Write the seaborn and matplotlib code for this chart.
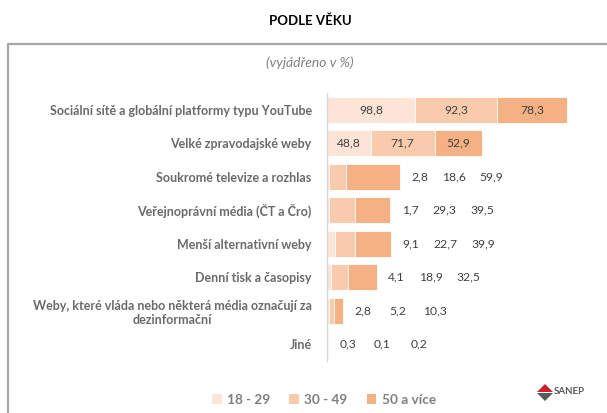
import matplotlib
matplotlib.use('Agg')
import matplotlib.pyplot as plt
import seaborn as sns
import pandas as pd
from matplotlib.patches import Patch, Polygon
from matplotlib.lines import Line2D

# data
categories = [
    'Sociální sítě a globální platformy typu YouTube',
    'Velké zpravodajské weby',
    'Soukromé televize a rozhlas',
    'Veřejnoprávní média (ČT a Čro)',
    'Menší alternativní weby',
    'Denní tisk a časopisy',
    'Weby, které vláda nebo některá média označují za\ndezinformační',
    'Jiné',
]
age_18_29 = [98.8, 48.8, 2.8, 1.7, 9.1, 4.1, 2.8, 0.3]
age_30_49 = [92.3, 71.7, 18.6, 29.3, 22.7, 18.9, 5.2, 0.1]
age_50_plus = [78.3, 52.9, 59.9, 39.5, 39.9, 32.5, 10.3, 0.2]
series_names = ['18 - 29', '30 - 49', '50 a více']
colors = ['#FCE4D6', '#F8CBAD', '#F4B183']

sns.set_style('white')
plt.rcParams['font.family'] = ['Lato', 'DejaVu Sans']

df = pd.DataFrame({'kat': categories, 'a': age_18_29, 'b': age_30_49, 'c': age_50_plus})
df['c1'] = df['a']
df['c2'] = df['a'] + df['b']
df['c3'] = df['c2'] + df['c']

fig = plt.figure(figsize=(6.07, 4.13), dpi=100)
ax = fig.add_axes([327 / 607, 52 / 413, 273 / 607, 268 / 413])

# stacked bars: draw cumulative totals from the back
for col, color in zip(['c3', 'c2', 'c1'], colors[::-1]):
    sns.barplot(data=df, x=col, y='kat', color=color, width=0.78, saturation=1,
                edgecolor='white', linewidth=0.6, ax=ax)

ax.set_xlim(0, 306)
ax.set_ylim(7.5, -0.5)
ax.set_xlabel('')
ax.set_ylabel('')
ax.set_xticks([])
ax.tick_params(axis='y', length=0, pad=11)
for lbl in ax.get_yticklabels():
    lbl.set_fontsize(9.0)
    lbl.set_fontweight('bold')
    lbl.set_color('#6A6A6A')
    lbl.set_multialignment('center')
for s in ['top', 'right', 'bottom']:
    ax.spines[s].set_visible(False)
ax.spines['left'].set_color('#D9D9D9')
ax.spines['left'].set_linewidth(1.0)

# value labels
offsets = [20, 54, 92]
for i, row in df.iterrows():
    vals = [row['a'], row['b'], row['c']]
    starts = [0, row['c1'], row['c2']]
    if min(vals) >= 20:
        for v, s in zip(vals, starts):
            ax.text(s + v / 2, i, f'{v:.1f}'.replace('.', ','), ha='center', va='center',
                    fontsize=8.7, color='#404040')
    else:
        for v, off in zip(vals, offsets):
            ax.annotate(f'{v:.1f}'.replace('.', ','), xy=(row['c3'], i),
                        xytext=(off, 0), textcoords='offset pixels',
                        ha='center', va='center', fontsize=8.7, color='#404040')

# title, subtitle, frame
fig.text(310 / 607, 1 - 21 / 413, 'PODLE VĚKU', ha='center', va='center',
         fontsize=9.5, fontweight='bold', color='#000000')
fig.text(310 / 607, 1 - 63 / 413, '(vyjádřeno v %)', ha='center', va='center',
         fontsize=10, fontstyle='italic', color='#808080')
fig.add_artist(Line2D([8 / 607, 8 / 607, 1.0], [0, 1 - 44 / 413, 1 - 44 / 413],
                      transform=fig.transFigure, color='#A6A6A6', linewidth=1.6))

# legend
handles = [Patch(facecolor=c, edgecolor='none', label=n) for c, n in zip(colors, series_names)]
fig.legend(handles=handles, loc='center', bbox_to_anchor=(324 / 607, 1 - 400 / 413), ncol=3,
           frameon=False, handlelength=0.7, handleheight=0.7, handletextpad=0.4,
           columnspacing=1.4, prop={'size': 9.8, 'weight': 'bold'}, labelcolor='#7F7F7F')

# SANEP logo (simplified)
fig.add_artist(Polygon([[537 / 607, 1 - 392 / 413], [545 / 607, 1 - 384 / 413],
                        [553 / 607, 1 - 392 / 413]], closed=True, transform=fig.transFigure,
                       facecolor='#C8202F', edgecolor='none'))
fig.add_artist(Polygon([[537 / 607, 1 - 393 / 413], [545 / 607, 1 - 401 / 413],
                        [553 / 607, 1 - 393 / 413]], closed=True, transform=fig.transFigure,
                       facecolor='#5A5A5A', edgecolor='none'))
fig.text(554 / 607, 1 - 392 / 413, 'SANEP', ha='left', va='center', fontsize=7,
         fontweight='bold', color='#5A5A5A')

fig.savefig('out.png', dpi=100)
